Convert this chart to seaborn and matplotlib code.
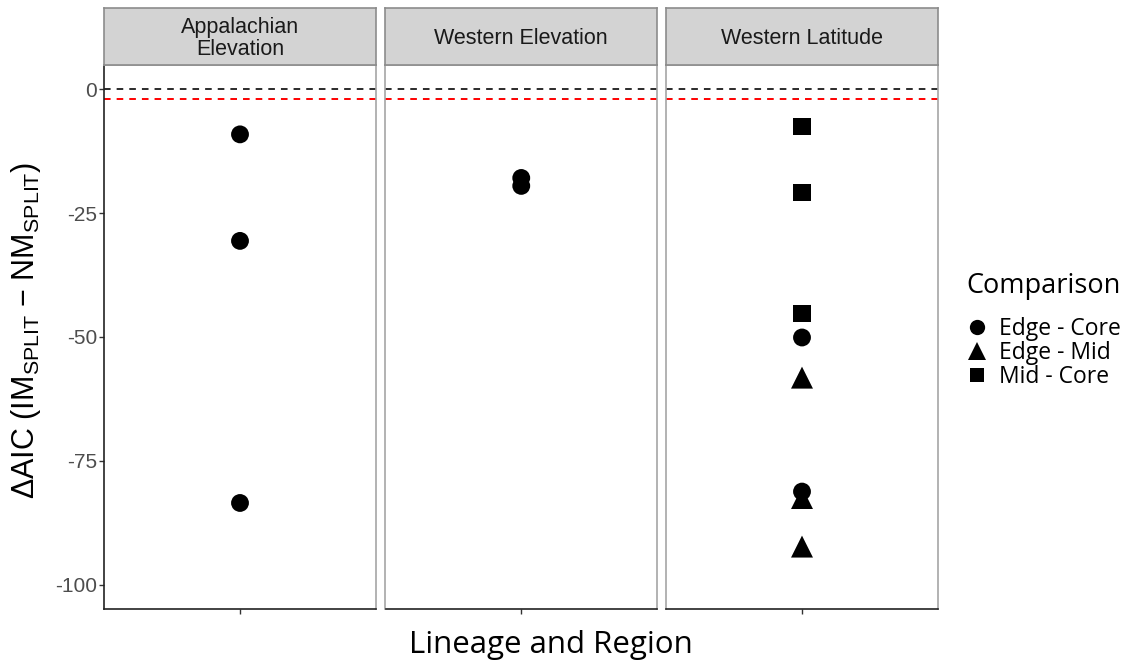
import matplotlib
matplotlib.use("Agg")
import matplotlib.pyplot as plt
import seaborn as sns
import pandas as pd

# Delta AIC values per lineage/region and pairwise comparison
region = (["Appalachian\nElevation"] * 3
          + ["Western Elevation"] * 2
          + ["Western Latitude"] * 8)
comparison = (["Edge - Core"] * 3
              + ["Edge - Core"] * 2
              + ["Edge - Core", "Edge - Core",
                 "Edge - Mid", "Edge - Mid", "Edge - Mid",
                 "Mid - Core", "Mid - Core", "Mid - Core"])
delta_aic = ([-9.1, -30.6, -83.5]
             + [-17.9, -19.5]
             + [-50.1, -81.2,
                -58.2, -82.5, -92.3,
                -7.5, -20.8, -45.3])

panels = ["Appalachian\nElevation", "Western Elevation", "Western Latitude"]
levels = ["Edge - Core", "Edge - Mid", "Mid - Core"]
ref_lines = [0, -2]
y_ticks = [0, -25, -50, -75, -100]

df = pd.DataFrame({"Region": region, "Comparison": comparison, "dAIC": delta_aic})

sns.set_theme(style="white")
plt.rcParams["font.family"] = ["Liberation Sans", "DejaVu Sans"]
plt.rcParams["mathtext.fontset"] = "custom"
plt.rcParams["mathtext.rm"] = "Liberation Sans"
plt.rcParams["mathtext.it"] = "Liberation Sans"

W, H = 1143, 669
fig = plt.figure(figsize=(W / 100, H / 100), dpi=100)

panel_x = [(104, 376), (385.5, 657), (666, 938)]
top, bottom, strip_top = 65, 609, 8

markers = {"Edge - Core": "o", "Edge - Mid": "^", "Mid - Core": "s"}
sizes = {"Edge - Core": 165, "Edge - Mid": 250, "Mid - Core": 155}

axes = []
for i, (name, (x0, x1)) in enumerate(zip(panels, panel_x)):
    ax = fig.add_axes([x0 / W, 1 - bottom / H, (x1 - x0) / W, (bottom - top) / H])
    axes.append(ax)
    sub = df[df["Region"] == name]
    sns.scatterplot(data=sub, x="Region", y="dAIC", style="Comparison",
                    size="Comparison", style_order=levels, size_order=levels,
                    markers=markers, sizes=sizes, color="black",
                    edgecolor="none", linewidth=0, legend=(i == 2), ax=ax,
                    zorder=3)
    ax.axhline(ref_lines[0], color="#2b2b2b", ls=(0, (3.4, 3.1)), lw=1.4, zorder=2)
    ax.axhline(ref_lines[1], color="#ff0000", ls=(0, (3.4, 3.1)), lw=1.4, zorder=2)
    ax.set_xlim(-0.6, 0.6)
    ax.set_ylim(-104.9, 4.9)
    ax.set_xlabel("")
    ax.set_ylabel("")
    ax.set_xticks([0])
    ax.set_xticklabels([""])
    ax.set_yticks(y_ticks)
    ax.tick_params(axis="x", length=3.5, width=1, color="#333333", bottom=True)
    if i == 0:
        ax.set_yticklabels([str(t) for t in y_ticks])
        ax.tick_params(axis="y", length=3.5, width=1, color="#333333", left=True,
                       labelsize=15, labelcolor="#4d4d4d", pad=1.5)
    else:
        ax.set_yticklabels([])
        ax.tick_params(axis="y", left=False)
    for side in ["top", "right", "left", "bottom"]:
        ax.spines[side].set_visible(True)
        ax.spines[side].set_color("#a6a6a6")
        ax.spines[side].set_linewidth(1.2)
    ax.spines["bottom"].set_color("#222222")
    if i == 0:
        ax.spines["left"].set_color("#222222")

    # facet strip
    sax = fig.add_axes([x0 / W, 1 - top / H, (x1 - x0) / W, (top - strip_top) / H])
    sax.set_xticks([])
    sax.set_yticks([])
    sax.set_facecolor("#d3d3d3")
    for s in sax.spines.values():
        s.set_color("#8c8c8c")
        s.set_linewidth(1.2)
    sax.text(0.5, 0.47, name, ha="center", va="center", fontsize=15.5,
             color="#1a1a1a", linespacing=1.08, transform=sax.transAxes)

# legend placed to the right of the panels
leg_ax = axes[2]
handles, labels = leg_ax.get_legend_handles_labels()
leg_ax.get_legend().remove()
pairs = [(h, l) for h, l in zip(handles, labels) if l in levels]
legend_ms = {"Edge - Core": 11, "Edge - Mid": 13, "Mid - Core": 10}
for h, l in pairs:
    h.set_color("black")
    h.set_markersize(legend_ms[l])
leg = fig.legend([h for h, _ in pairs], [l for _, l in pairs],
                 title="Comparison", loc="upper left",
                 bbox_to_anchor=(966 / W, 1 - 272 / H), frameon=False,
                 prop={"family": "Open Sans", "size": 16.5}, labelspacing=0.0,
                 handletextpad=0.45, handlelength=1.0, borderaxespad=0,
                 borderpad=0, labelcolor="black")
leg.get_title().set_fontfamily("Open Sans")
leg.get_title().set_fontsize(19.5)
leg.get_title().set_color("black")
leg._legend_box.align = "left"
leg._legend_box.sep = 12

fig.text(551 / W, 1 - 645 / H, "Lineage and Region", ha="center", va="center",
         fontsize=22.5, family="Open Sans", color="black")
fig.text(26 / W, 1 - 330 / H,
         r"ΔAIC (IM$_{\mathrm{SPLIT}}$ − NM$_{\mathrm{SPLIT}}$)",
         rotation=90, ha="center", va="center", fontsize=22, color="black")

fig.savefig("out.png", dpi=100)
